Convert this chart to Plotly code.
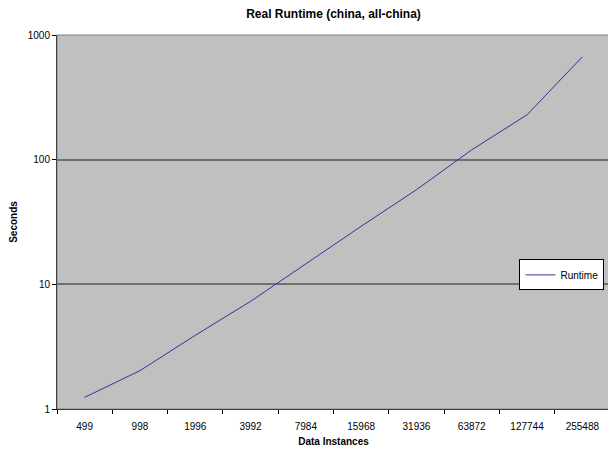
import plotly.graph_objects as go

categories = ["499", "998", "1996", "3992", "7984", "15968", "31936", "63872", "127744", "255488"]
runtime = [1.24, 2.03, 3.9, 7.3, 14.6, 29.2, 57.4, 120, 229, 668]
y_ticks = [1, 10, 100, 1000]

fig = go.Figure()
fig.add_trace(go.Scatter(x=categories, y=runtime, mode="lines", name="Runtime",
                         line=dict(color="#333399", width=1)))

font = "Liberation Sans, Arial, sans-serif"
W, H = 608, 442
fig.update_layout(
    width=W, height=H,
    margin=dict(l=49, r=6, t=27, b=40.5, autoexpand=False),
    paper_bgcolor="white", plot_bgcolor="#c0c0c0",
    font=dict(family=font, size=10, color="black"),
    title=dict(text="<b>Real Runtime (china, all-china)</b>", x=325.5 / W, xanchor="center",
               y=1 - 6 / H, yanchor="middle", font=dict(size=12)),
    showlegend=True,
    legend=dict(x=0.99, y=0.40, xanchor="right", yanchor="top", bgcolor="white",
                bordercolor="black", borderwidth=1, font=dict(size=10), itemwidth=30,
                tracegroupgap=0),
    xaxis=dict(type="category", range=[-0.5, 9.5], tickson="boundaries", ticks="outside", ticklen=4,
               tickcolor="black", showline=True, linecolor="black", linewidth=1,
               ticklabelstandoff=8,
               showgrid=False, title=dict(text="<b>Data Instances</b>", standoff=6,
                                          font=dict(size=10))),
    yaxis=dict(type="log", range=[0, 3], tickvals=y_ticks, ticktext=[str(v) for v in y_ticks],
               ticks="outside", ticklen=4, tickcolor="black", showline=True, linecolor="black",
               linewidth=1, showgrid=True, gridcolor="#707070", gridwidth=1.5, zeroline=False,
               title=dict(text="<b>Seconds</b>", standoff=8, font=dict(size=10))),
)
fig.add_shape(type="rect", xref="paper", yref="paper", x0=0, x1=1, y0=0, y1=1,
              line=dict(color="#808080", width=1), layer="above")
fig.write_html("out.html")
